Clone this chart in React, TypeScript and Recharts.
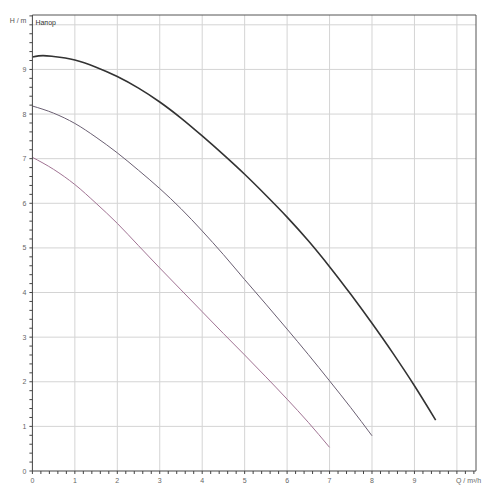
import { Line, LineChart, ReferenceLine, XAxis, YAxis } from "recharts";

// Q / m³/h  and  H / m
const flowTop = [0, 0.25, 0.5, 1, 1.5, 2, 2.5, 3, 3.5, 4, 4.5, 5, 5.5, 6, 6.5, 7, 7.5, 8, 8.5, 9, 9.5];
const headTop = [9.28, 9.31, 9.29, 9.21, 9.05, 8.84, 8.58, 8.27, 7.91, 7.51, 7.09, 6.65, 6.18, 5.69, 5.16, 4.58, 3.96, 3.31, 2.63, 1.91, 1.14];

const flowMid = [0, 0.5, 1, 1.5, 2, 2.5, 3, 3.5, 4, 4.5, 5, 5.5, 6, 6.5, 7, 7.5, 8];
const headMid = [8.18, 8.02, 7.79, 7.48, 7.13, 6.74, 6.33, 5.88, 5.38, 4.85, 4.29, 3.74, 3.18, 2.61, 2.02, 1.42, 0.79];

const flowLow = [0, 0.5, 1, 1.5, 2, 2.5, 3, 3.5, 4, 4.5, 5, 5.5, 6, 6.5, 7];
const headLow = [7.03, 6.76, 6.42, 6.0, 5.55, 5.05, 4.55, 4.06, 3.57, 3.08, 2.6, 2.11, 1.61, 1.09, 0.53];

const majorQ = [0, 1, 2, 3, 4, 5, 6, 7, 8, 9, 10];
const majorH = [0, 1, 2, 3, 4, 5, 6, 7, 8, 9, 10];
const xLabel = "Q / m³/h";
const yLabel = "H / m";
const curveLabel = "Напор";

// minor ticks every 0.2
const minorQ = Array.from({ length: 53 }, (_, i) => Math.round(i * 2) / 10);
const minorH = Array.from({ length: 52 }, (_, i) => Math.round(i * 2) / 10);

const toRows = (qs: number[], hs: number[]) => qs.map((q, i) => ({ q, h: hs[i] }));

const font = "'Liberation Sans', Arial, sans-serif";
const isMajor = (v: number) => Math.abs(v - Math.round(v)) < 1e-6;

function QTick({ x, y, payload }: any) {
  const v = payload.value;
  return (
    <g>
      <line x1={x} x2={x} y1={y} y2={y + 3} stroke="#444" />
      {isMajor(v) && v < 10 && (
        <text x={x} y={y + 12} textAnchor="middle" fontSize={7} fill="#666" fontFamily={font}>{v}</text>
      )}
      {v === 10 && (
        <text x={x - 1} y={y + 12} textAnchor="start" fontSize={7} fill="#666" fontFamily={font}>{xLabel}</text>
      )}
    </g>
  );
}

function HTick({ x, y, payload }: any) {
  const v = payload.value;
  return (
    <g>
      <line x1={x - 3} x2={x} y1={y} y2={y} stroke="#444" />
      {isMajor(v) && v < 10 && (
        <text x={x - 6} y={y + 2.5} textAnchor="end" fontSize={7} fill="#666" fontFamily={font}>{v}</text>
      )}
      {v === 10 && (
        <>
          <text x={x - 6} y={y - 2} textAnchor="end" fontSize={7} fill="#555" fontFamily={font}>{yLabel}</text>
          <text x={x + 3} y={y} textAnchor="start" fontSize={7} fill="#333" fontFamily={font}>{curveLabel}</text>
        </>
      )}
    </g>
  );
}

export default function App() {
  return (
    <div style={{ position: "absolute", left: 0, top: 0, width: 500, height: 500, background: "#fff" }}>
      <LineChart width={500} height={500} margin={{ top: 15, right: 24, bottom: 9, left: 0 }}>
        <XAxis
          type="number"
          dataKey="q"
          domain={[0, 10.45]}
          ticks={minorQ}
          interval={0}
          tick={<QTick />}
          tickLine={false}
          tickSize={0}
          tickMargin={0}
          height={20}
          stroke="#444"
          allowDataOverflow
        />
        <YAxis
          type="number"
          domain={[0, 10.22]}
          ticks={minorH}
          interval={0}
          tick={<HTick />}
          tickLine={false}
          tickSize={0}
          tickMargin={0}
          width={32.4}
          stroke="#444"
          allowDataOverflow
        />
        {majorQ.slice(1).map((q) => (
          <ReferenceLine key={"vq" + q} x={q} stroke="#d4d4d4" strokeWidth={1} />
        ))}
        {majorH.slice(1).map((h) => (
          <ReferenceLine key={"hh" + h} y={h} stroke="#d4d4d4" strokeWidth={1} />
        ))}
        <ReferenceLine x={10.45} stroke="#555" />
        <ReferenceLine y={10.22} stroke="#555" />
        <Line data={toRows(flowLow, headLow)} dataKey="h" type="monotone" stroke="#a07393" strokeWidth={1} dot={false} isAnimationActive={false} />
        <Line data={toRows(flowMid, headMid)} dataKey="h" type="monotone" stroke="#6a5f72" strokeWidth={1} dot={false} isAnimationActive={false} />
        <Line data={toRows(flowTop, headTop)} dataKey="h" type="monotone" stroke="#333" strokeWidth={1.6} dot={false} isAnimationActive={false} />
      </LineChart>
    </div>
  );
}
